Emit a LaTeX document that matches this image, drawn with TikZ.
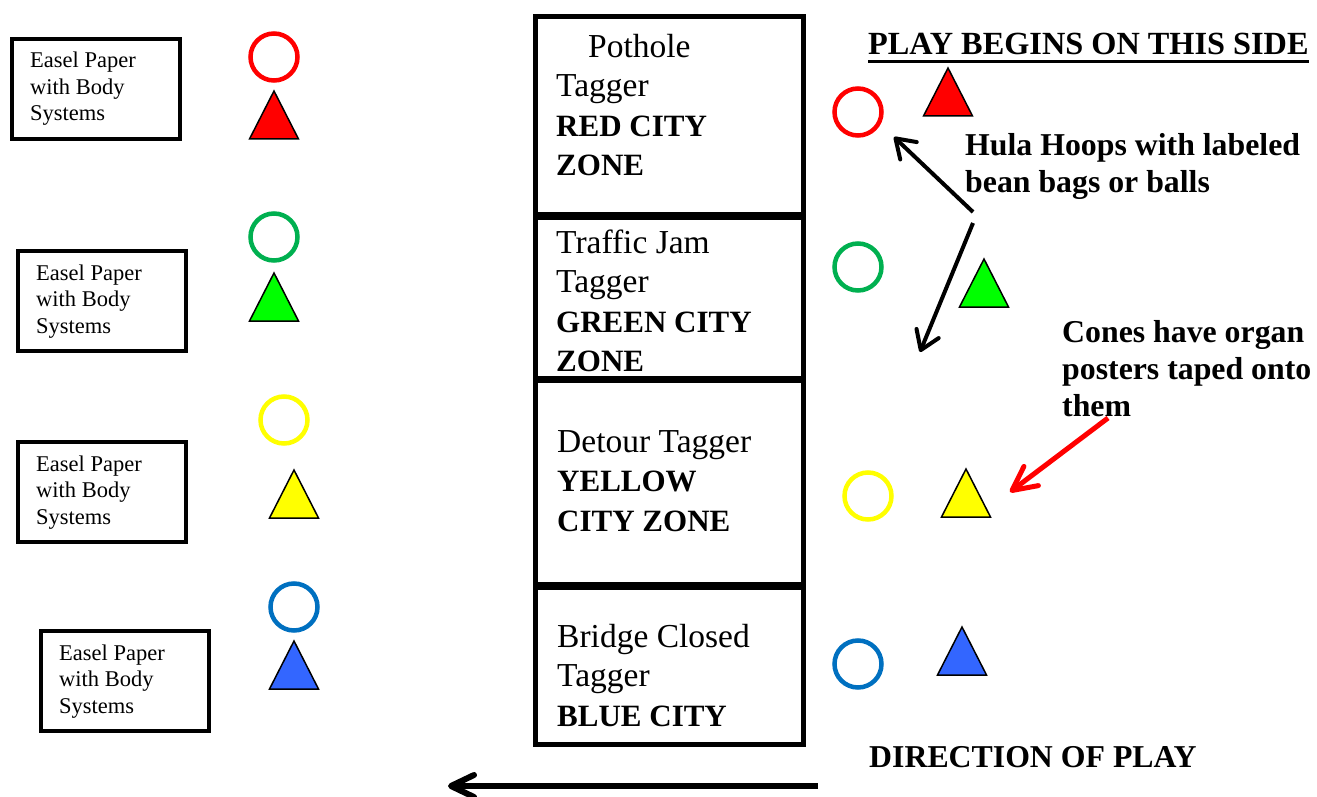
\documentclass[tikz,border=0pt]{standalone}
\usepackage{fontspec}
\setmainfont{Liberation Serif}
\usetikzlibrary{arrows.meta}

\definecolor{hoopred}{HTML}{FF0000}
\definecolor{hoopgreen}{HTML}{00B050}
\definecolor{hoopyellow}{HTML}{FFFF00}
\definecolor{hoopblue}{HTML}{0070C0}
\definecolor{conered}{HTML}{FF0000}
\definecolor{conegreen}{HTML}{00FF00}
\definecolor{coneyellow}{HTML}{FFFF00}
\definecolor{coneblue}{HTML}{3366FF}

\tikzset{
  hoop/.style={circle, draw=#1, line width=4.5pt, minimum size=47pt, inner sep=0pt},
  pics/cone/.style={code={
    \filldraw[fill=#1, draw=black, line width=1.5pt, line join=miter]
      (0,0) -- (24.5,48) -- (-24.5,48) -- cycle;}},
  easelbox/.style={draw, line width=4pt, minimum width=168pt, minimum height=100pt,
    inner sep=0pt, anchor=north west},
  % multi-line texts are placed by the baseline of their last line
  easeltext/.style={anchor=base west, align=left, inner sep=0pt,
    font=\fontsize{22.5}{26.5}\selectfont},
  zonebox/.style={draw, line width=5pt, minimum width=268pt, inner sep=0pt,
    anchor=north west},
  zonetext/.style={anchor=base west, align=left, inner sep=0pt,
    font=\fontsize{33.5}{39.5}\selectfont},
  note/.style={anchor=base west, align=left, inner sep=0pt,
    font=\bfseries\fontsize{31.8}{37}\selectfont},
  pointer/.style={line width=4pt, -{Straight Barb[length=18pt,width=24pt,round]}},
  redpointer/.style={draw=hoopred, line width=5pt,
    -{Straight Barb[length=24pt,width=24pt,round]}},
  playarrow/.style={line width=6pt, -{Straight Barb[length=23pt,width=22pt,round]}},
}

\newcommand{\zb}[1]{{\bfseries\fontsize{31}{39.5}\selectfont #1}}

\begin{document}
\begin{tikzpicture}[x=1pt, y=-1pt]
  \useasboundingbox (0,0) rectangle (1317,797);
  \fill[white] (0,0) rectangle (1317,797);

  % easel papers on the left
  \node[easelbox] (easel1) at (10,37) {};
  \node[easelbox] (easel2) at (16,249) {};
  \node[easelbox] (easel3) at (16,440) {};
  \node[easelbox] (easel4) at (39,629) {};
  \foreach \i in {1,...,4}
    \node[easeltext] (easeltxt\i) at ([shift={(20,84)}]easel\i.north west)
      {Easel Paper\\with Body\\Systems};

  % hoops and cones next to the easels
  \node[hoop=hoopred]    (lhoop1) at (274,57) {};
  \node[hoop=hoopgreen]  (lhoop2) at (274,237) {};
  \node[hoop=hoopyellow] (lhoop3) at (284,420) {};
  \node[hoop=hoopblue]   (lhoop4) at (294,607) {};
  \pic at (274,91)  {cone=conered};
  \pic at (274,273) {cone=conegreen};
  \pic at (294,470) {cone=coneyellow};
  \pic at (294,641) {cone=coneblue};

  % tagger zones
  \node[zonebox, minimum height=197pt] (zone1) at (533,14.5) {};
  \node[zonebox, minimum height=161pt] (zone2) at (533,214.5) {};
  \node[zonebox, minimum height=203.5pt] (zone3) at (533,378) {};
  \node[zonebox, minimum height=157.5pt] (zone4) at (533,584.5) {};

  \node[zonetext] (zonetxt1) at ([shift={(23,161)}]zone1.north west)
    {\hspace*{32pt}Pothole\\Tagger\\\zb{RED CITY}\\\zb{ZONE}};
  \node[zonetext] (zonetxt2) at ([shift={(23,157)}]zone2.north west)
    {Traffic Jam\\Tagger\\\zb{GREEN CITY}\\\zb{ZONE}};
  \node[zonetext] (zonetxt3) at ([shift={(24,153)}]zone3.north west)
    {Detour Tagger\\\zb{YELLOW}\\\zb{CITY ZONE}};
  \node[zonetext] (zonetxt4) at ([shift={(24,141.5)}]zone4.north west)
    {Bridge Closed\\Tagger\\\zb{BLUE CITY}};

  % hoops and cones on the starting side
  \node[hoop=hoopred]    (rhoop1) at (858,112) {};
  \node[hoop=hoopgreen]  (rhoop2) at (858,267) {};
  \node[hoop=hoopyellow] (rhoop3) at (868,496) {};
  \node[hoop=hoopblue]   (rhoop4) at (858,664) {};
  \pic at (948,68)  {cone=conered};
  \pic at (984,259) {cone=conegreen};
  \pic at (966,469) {cone=coneyellow};
  \pic at (962,627) {cone=coneblue};

  % notes
  \node[note, font=\bfseries\fontsize{32.3}{37}\selectfont] (start) at (868,55)
    {PLAY BEGINS ON THIS SIDE};
  \draw[line width=3pt] ([yshift=-7pt]start.base west) -- ([yshift=-7pt]start.base east);
  \node[note] (hulanote) at (965,192) {Hula Hoops with labeled\\bean bags or balls};
  \node[note] (conenote) at (1062,416) {Cones have organ\\posters taped onto\\them};
  \node[note] (direction) at (869,767) {DIRECTION OF PLAY};

  % pointers
  \coordinate (hulaA) at (973,212);
  \coordinate (hulaAtip) at (894,137);
  \coordinate (hulaB) at (973,223);
  \coordinate (hulaBtip) at (920,352);
  \coordinate (coneA) at (1108,418);
  \coordinate (coneAtip) at (1010,492);
  \coordinate (playstart) at (818,786);
  \coordinate (playend) at (448,786);

  \draw[pointer] (hulaA) -- (hulaAtip);
  \draw[pointer] (hulaB) -- (hulaBtip);
  \draw[redpointer] (coneA) -- (coneAtip);
  \draw[playarrow] (playstart) -- (playend);
\end{tikzpicture}
\end{document}
